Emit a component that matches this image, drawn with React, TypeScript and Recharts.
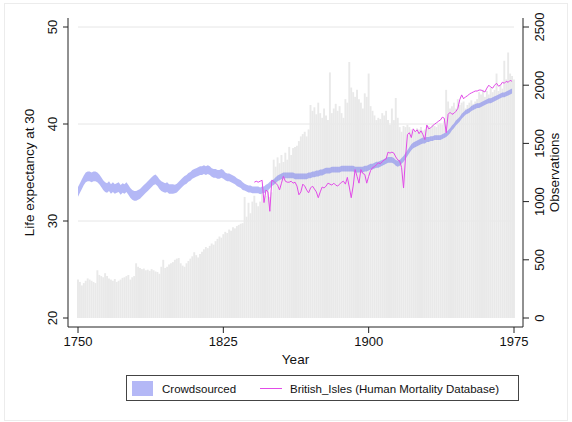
import { ComposedChart, Bar, Area, Line, XAxis, YAxis, ReferenceLine } from 'recharts'

const FONT = "'Liberation Sans', Arial, Helvetica, sans-serif"
const INK = '#111'

const FIRST_YEAR = 1750
const HMD_FIRST_YEAR = 1841

// observations per year, 1750-1975
const observations = [
  330, 310, 280, 300, 320, 340, 330, 320, 310, 300,
  410, 370, 360, 350, 385, 360, 340, 330, 320, 335,
  310, 320, 330, 345, 350, 360, 370, 330, 350, 360,
  470, 440, 430, 420, 425, 410, 415, 405, 420, 410,
  400, 395, 380, 440, 500, 430, 440, 460, 470, 480,
  500, 510, 515, 470, 450, 440, 470, 490, 510, 530,
  565, 540, 520, 550, 570, 590, 610, 600, 620, 640,
  630, 660, 680, 700, 690, 720, 740, 730, 760, 750,
  780, 770, 790, 800, 810, 815, 1040, 870, 990, 900,
  1000, 1050, 990, 960, 1000, 1075, 1020, 1050, 1100, 1040,
  1080, 1360, 1300, 1380, 1330, 1400, 1340, 1420, 1360, 1470,
  1400, 1460, 1470, 1480, 1520, 1560, 1580, 1600, 1560, 1620,
  1830, 1780, 1810, 1750, 1850, 1760, 1720, 1800, 1740, 1700,
  2110, 1760, 1800, 1840, 1780, 1820, 1760, 1720, 1880, 1850,
  2200, 1980, 1940, 1900, 1960, 1880, 1850, 1800, 1930, 1900,
  2100, 1820, 1780, 1740, 1700, 1720, 1710, 1760, 1740, 1780,
  1700, 1660, 1800, 1700, 1890, 1720, 1640, 1600, 1650, 1640,
  1660, 1640, 1620, 1600, 1610, 1630, 1620, 1640, 1610, 1620,
  1640, 1650, 1630, 1660, 1650, 1640, 1660, 1670, 1660, 1690,
  1960, 1860, 1800, 1820, 1850, 1800, 1880, 1830, 1850, 1860,
  1800, 1830, 1850, 1870, 1840, 1860, 1880, 1940, 1920, 1960,
  1900, 1950, 1920, 1980, 1940, 1960, 2100, 1950, 2000, 1970,
  2210, 2050, 2280, 2100, 2080, 2050,
]

// crowdsourced confidence band, 1750-1974
const crowdLow = [
  32.5, 32.9, 33.3, 33.7, 34.0, 34.1, 34.1, 34.0, 34.1, 34.1,
  34.0, 33.8, 33.5, 33.2, 33.0, 32.9, 33.1, 32.8, 33.0, 32.8,
  32.9, 33.0, 32.7, 32.9, 32.8, 33.0, 32.7, 32.4, 32.2, 32.1,
  32.1, 32.2, 32.3, 32.5, 32.7, 32.9, 33.1, 33.3, 33.5, 33.7,
  33.8, 33.6, 33.3, 33.1, 33.0, 32.9, 33.0, 32.8, 32.8, 32.8,
  32.85, 32.95, 33.15, 33.35, 33.55, 33.75, 33.85, 34.05, 34.15, 34.35,
  34.45, 34.55, 34.65, 34.75, 34.75, 34.85, 34.75, 34.85, 34.75, 34.55,
  34.45, 34.45, 34.35, 34.35, 34.45, 34.35, 34.2, 34.1, 34.1, 34.0,
  33.9, 33.8, 33.6, 33.5, 33.4, 33.2, 33.15, 33.05, 32.95, 32.95,
  32.85, 32.85, 32.85, 32.85, 32.75, 32.85, 32.85, 33.05, 33.15, 33.35,
  33.6, 33.7, 33.9, 34.1, 34.2, 34.3, 34.4, 34.4, 34.4, 34.4,
  34.4, 34.4, 34.3, 34.3, 34.3, 34.3, 34.3, 34.3, 34.3, 34.4,
  34.4, 34.5, 34.5, 34.6, 34.6, 34.7, 34.7, 34.8, 34.9, 34.9,
  34.9, 35.0, 35.0, 35.0, 35.0, 35.0, 35.1, 35.1, 35.1, 35.1,
  35.1, 35.1, 35.1, 35.0, 35.0, 35.0, 35.0, 35.0, 35.1, 35.1,
  35.2, 35.3, 35.3, 35.4, 35.5, 35.5, 35.6, 35.7, 35.8, 35.9,
  36.0, 36.0, 36.0, 35.9, 35.7, 35.6, 35.7, 35.9, 36.1, 36.4,
  36.7, 37.0, 37.3, 37.5, 37.6, 37.7, 37.8, 37.9, 38.0, 38.0,
  38.15, 38.15, 38.25, 38.25, 38.35, 38.35, 38.35, 38.35, 38.45, 38.55,
  38.65, 38.85, 39.05, 39.35, 39.55, 39.85, 40.05, 40.25, 40.55, 40.75,
  40.95, 41.05, 41.15, 41.35, 41.45, 41.55, 41.65, 41.65, 41.75, 41.85,
  41.95, 42.05, 42.15, 42.15, 42.25, 42.35, 42.45, 42.55, 42.65, 42.75,
  42.75, 42.85, 42.95, 43.05, 43.15,
]

const crowdHigh = [
  33.5, 33.9, 34.3, 34.7, 35.0, 35.1, 35.1, 35.0, 35.1, 35.1,
  35.0, 34.8, 34.5, 34.2, 34.0, 33.9, 34.1, 33.8, 34.0, 33.8,
  33.9, 34.0, 33.7, 33.9, 33.8, 34.0, 33.7, 33.4, 33.2, 33.1,
  33.1, 33.2, 33.3, 33.5, 33.7, 33.9, 34.1, 34.3, 34.5, 34.7,
  34.8, 34.6, 34.3, 34.1, 34.0, 33.9, 34.0, 33.8, 33.8, 33.8,
  33.75, 33.85, 34.05, 34.25, 34.45, 34.65, 34.75, 34.95, 35.05, 35.25,
  35.35, 35.45, 35.55, 35.65, 35.65, 35.75, 35.65, 35.75, 35.65, 35.45,
  35.35, 35.35, 35.25, 35.25, 35.35, 35.25, 35.0, 34.9, 34.9, 34.8,
  34.7, 34.6, 34.4, 34.3, 34.2, 34.0, 33.85, 33.75, 33.65, 33.65,
  33.55, 33.55, 33.55, 33.55, 33.45, 33.55, 33.55, 33.75, 33.85, 34.05,
  34.2, 34.3, 34.5, 34.7, 34.8, 34.9, 35.0, 35.0, 35.0, 35.0,
  35.0, 35.0, 34.9, 34.9, 34.9, 34.9, 34.9, 34.9, 34.9, 35.0,
  35.0, 35.1, 35.1, 35.2, 35.2, 35.3, 35.3, 35.4, 35.5, 35.5,
  35.5, 35.6, 35.6, 35.6, 35.6, 35.6, 35.7, 35.7, 35.7, 35.7,
  35.7, 35.7, 35.7, 35.6, 35.6, 35.6, 35.6, 35.6, 35.7, 35.7,
  35.8, 35.9, 35.9, 36.0, 36.1, 36.1, 36.2, 36.3, 36.4, 36.5,
  36.6, 36.6, 36.6, 36.5, 36.3, 36.2, 36.3, 36.5, 36.7, 37.0,
  37.3, 37.6, 37.9, 38.1, 38.2, 38.3, 38.4, 38.5, 38.6, 38.6,
  38.65, 38.65, 38.75, 38.75, 38.85, 38.85, 38.85, 38.85, 38.95, 39.05,
  39.15, 39.35, 39.55, 39.85, 40.05, 40.35, 40.55, 40.75, 41.05, 41.25,
  41.45, 41.55, 41.65, 41.85, 41.95, 42.05, 42.15, 42.15, 42.25, 42.35,
  42.45, 42.55, 42.65, 42.65, 42.75, 42.85, 42.95, 43.05, 43.15, 43.25,
  43.25, 43.35, 43.45, 43.55, 43.65,
]

// British Isles, Human Mortality Database, 1841-1974
const britishIsles = [
  34.0, 34.1, 34.0, 34.1, 34.2, 31.9, 33.2, 33.0, 31.0,
  34.2, 34.1, 33.9, 33.7, 33.2, 33.9, 34.6, 34.1, 34.0, 34.0,
  34.1, 33.9, 34.0, 33.6, 32.7, 33.0, 33.8, 33.6, 33.2, 32.9,
  33.4, 33.6, 33.3, 33.0, 32.4, 33.0, 33.5, 33.4, 33.6, 33.9,
  33.8, 33.7, 33.9, 33.7, 33.6, 33.8, 34.0, 34.1, 33.8, 34.5,
  33.5, 32.4, 33.6, 35.3, 34.6, 33.9, 35.3, 34.9, 34.8, 33.9,
  34.6, 35.2, 35.5, 35.6, 35.8, 36.0, 35.9, 36.1, 36.3, 36.4,
  37.1, 37.0, 37.1, 37.0, 36.6, 36.3, 36.2, 35.5, 33.4, 36.5,
  38.9, 39.1, 38.6, 39.5, 39.2, 39.4, 39.0, 39.3, 38.9, 38.4,
  39.9, 39.5, 39.6, 39.8, 40.0, 40.1, 40.3, 40.4, 40.7, 40.6,
  39.1, 41.0, 41.2, 41.0, 41.1, 41.3, 41.6, 42.5, 43.0, 42.6,
  42.8, 42.9, 43.1, 43.2, 43.3, 43.4, 43.4, 43.5, 43.5, 43.4,
  43.3, 43.7, 44.0, 43.8, 43.7, 44.0, 44.2, 43.9, 44.0, 44.3,
  44.2, 44.4, 44.3, 44.5, 44.4,
]

const yearTicks = [1750, 1825, 1900, 1975]
const lifeTicks = [20, 30, 40, 50]
const obsTicks = [0, 500, 1000, 1500, 2000, 2500]
const gridLevels = [30, 40, 50]

const rows = observations.map((obs, i) => {
  const year = FIRST_YEAR + i
  const h = year - HMD_FIRST_YEAR
  return {
    year,
    obs,
    band: i < crowdLow.length ? [crowdLow[i], crowdHigh[i]] : null,
    hmd: h >= 0 && h < britishIsles.length ? britishIsles[h] : null,
  }
})

const BAND_FILL = '#6a72ee'
const HMD_STROKE = '#e24be8'
const FRAME = '#222'

// y labels are drawn sideways, reading upward, on both axes
function SideTick(props: any) {
  const { x, y, payload } = props
  return (
    <text
      x={x}
      y={y}
      dy="0.36em"
      textAnchor="middle"
      transform={`rotate(-90 ${x} ${y})`}
      fontSize={13}
      fontFamily={FONT}
      fill={INK}
    >
      {payload.value}
    </text>
  )
}

export default function App() {
  const xPad = { left: 10, right: 9 }
  const yPad = { top: 9, bottom: 9 }

  return (
    <div style={{ position: 'absolute', left: 0, top: 0, width: 572, height: 422, background: '#fff', fontFamily: FONT }}>
      <div style={{ position: 'absolute', left: 4, top: 3, width: 564, height: 418, border: '1px solid #ececec', boxSizing: 'border-box' }} />
      <div style={{ position: 'absolute', left: 0, top: 0 }}>
        <ComposedChart width={572} height={422} data={rows} margin={{ top: 18, right: 0, bottom: 0, left: 0 }}>
          <XAxis
            xAxisId="top"
            orientation="top"
            dataKey="year"
            type="number"
            domain={[1750, 1975]}
            height={0}
            tick={false}
            tickLine={false}
            stroke={FRAME}
            padding={xPad}
          />
          <XAxis
            dataKey="year"
            type="number"
            domain={[1750, 1975]}
            ticks={yearTicks}
            interval={0}
            height={95}
            padding={xPad}
            stroke={FRAME}
            tickSize={6}
            tickMargin={4}
            tick={{ fill: INK, fontSize: 13, fontFamily: FONT }}
            label={{ value: 'Year', position: 'insideTop', offset: 27, fill: INK, fontSize: 13.5, fontFamily: FONT }}
          />
          <YAxis
            yAxisId="le"
            type="number"
            domain={[20, 50]}
            ticks={lifeTicks}
            interval={0}
            width={68}
            padding={yPad}
            stroke={FRAME}
            tickSize={5}
            tickMargin={11}
            tick={SideTick}
            label={{
              value: 'Life expectancy at 30',
              angle: -90,
              position: 'insideLeft',
              offset: 29,
              style: { textAnchor: 'middle' },
              fill: INK,
              fontSize: 13.5,
              fontFamily: FONT,
            }}
          />
          <YAxis
            yAxisId="obs"
            orientation="right"
            type="number"
            domain={[0, 2500]}
            ticks={obsTicks}
            interval={0}
            width={49}
            padding={yPad}
            stroke={FRAME}
            tickSize={6}
            tickMargin={10}
            tick={SideTick}
            label={{
              value: 'Observations',
              angle: -90,
              position: 'insideRight',
              offset: 18,
              style: { textAnchor: 'middle' },
              fill: INK,
              fontSize: 13.5,
              fontFamily: FONT,
            }}
          />
          {gridLevels.map((v) => (
            <ReferenceLine
              key={v}
              yAxisId="le"
              segment={[{ x: 1750, y: v }, { x: 1975, y: v }]}
              stroke="#e6e6e6"
              strokeWidth={1}
              zIndex={50}
            />
          ))}
          <Bar yAxisId="obs" dataKey="obs" fill="#e9e9e9" barSize={1.9} isAnimationActive={false} zIndex={100} />
          {/* band sits above the bars, under the HMD line */}
          <Area
            yAxisId="le"
            dataKey="band"
            type="linear"
            stroke="none"
            fill={BAND_FILL}
            fillOpacity={0.5}
            isAnimationActive={false}
            zIndex={350}
          />
          <Line
            yAxisId="le"
            dataKey="hmd"
            type="linear"
            stroke={HMD_STROKE}
            strokeWidth={1}
            dot={false}
            activeDot={false}
            isAnimationActive={false}
            zIndex={400}
          />
        </ComposedChart>
      </div>

      {/* legend */}
      <div style={{ position: 'absolute', left: 126, top: 375, width: 393, height: 26, border: '1px solid #444', boxSizing: 'border-box' }} />
      <div style={{ position: 'absolute', left: 132, top: 381, width: 21, height: 15, background: BAND_FILL, opacity: 0.5 }} />
      <span style={{ position: 'absolute', left: 162, top: 382, fontSize: 11.5, lineHeight: '14px', color: INK, whiteSpace: 'nowrap' }}>
        Crowdsourced
      </span>
      <div style={{ position: 'absolute', left: 260, top: 388, width: 22, height: 1, background: HMD_STROKE }} />
      <span style={{ position: 'absolute', left: 290, top: 382, fontSize: 11.5, lineHeight: '14px', color: INK, whiteSpace: 'nowrap' }}>
        British_Isles (Human Mortality Database)
      </span>
    </div>
  )
}
